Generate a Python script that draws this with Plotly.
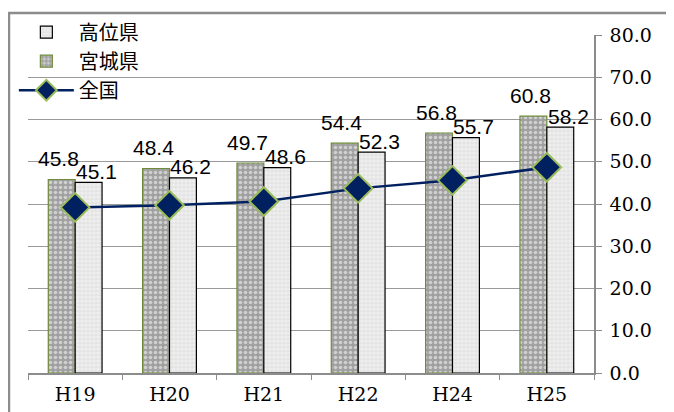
import plotly.graph_objects as go

categories = ["H19", "H20", "H21", "H22", "H24", "H25"]
miyagi = [45.8, 48.4, 49.7, 54.4, 56.8, 60.8]
koui = [45.1, 46.2, 48.6, 52.3, 55.7, 58.2]
zenkoku = [39.2, 39.7, 40.6, 43.7, 45.6, 48.7]
y_ticks = [0, 10, 20, 30, 40, 50, 60, 70, 80]

BARGAP = 0.43
# page has an 8px body margin, so margins are reduced by 8px on left/top
ML, MR, MT, MB = 20, 88, 27, 47
W, H = 674, 412
plot_w = W - ML - MR
cat_px = plot_w / len(categories)
bar_px = cat_px * (1 - BARGAP) / 2

label_font = dict(family="Liberation Sans, Arial", size=21, color="#000000")

fig = go.Figure()

fig.add_trace(go.Bar(
    name="宮城県", x=categories, y=miyagi,
    marker=dict(color="#a9a9a9", line=dict(color="#6f8a3a", width=1.2),
                pattern=dict(shape=".", bgcolor="#a0a0a0", fgcolor="#ffffff",
                             size=5, solidity=0.4, fillmode="overlay")),
    legendrank=2,
))
fig.add_trace(go.Bar(
    name="高位県", x=categories, y=koui,
    marker=dict(color="#ececec", line=dict(color="#000000", width=1.2),
                pattern=dict(shape=".", bgcolor="#e3e3e3", fgcolor="#fbfbfb",
                             size=4, solidity=0.5, fillmode="overlay")),
    legendrank=1,
))
fig.add_trace(go.Scatter(
    name="全国", x=categories, y=zenkoku, mode="lines+markers",
    line=dict(color="#002060", width=2.5),
    marker=dict(symbol="diamond", size=22, color="#002060",
                line=dict(color="#9bbb59", width=2)),
    cliponaxis=False,
    legendrank=3,
))

annotations = []
for c, v in zip(categories, miyagi):
    annotations.append(dict(x=c, y=v, xref="x", yref="y", text=f"{v:.1f}",
                            showarrow=False, font=label_font,
                            xanchor="center", yanchor="middle",
                            xshift=-bar_px / 2 - 3, yshift=21))
for c, v in zip(categories, koui):
    annotations.append(dict(x=c, y=v, xref="x", yref="y", text=f"{v:.1f}",
                            showarrow=False, font=label_font,
                            xanchor="center", yanchor="middle",
                            xshift=bar_px / 2 + 8, yshift=11))

fig.update_layout(
    width=W, height=H,
    margin=dict(l=ML, r=MR, t=MT, b=MB, autoexpand=False),
    paper_bgcolor="#ffffff", plot_bgcolor="#ffffff",
    barmode="group", bargap=BARGAP, bargroupgap=0,
    showlegend=True,
    legend=dict(x=-0.025, y=1.066, xanchor="left", yanchor="top",
                bgcolor="rgba(255,255,255,0)", borderwidth=0,
                font=dict(family="Noto Sans CJK JP", size=20, color="#000000"),
                itemwidth=55, tracegroupgap=0),
    xaxis=dict(type="category", showline=True, linecolor="#8c8c8c", linewidth=1.5,
               ticks="outside", ticklen=5, tickcolor="#8c8c8c", tickson="boundaries",
               showgrid=False, ticklabelstandoff=3,
               tickfont=dict(family="DejaVu Serif", size=19, color="#000000")),
    yaxis=dict(side="right", range=[0, 80], tickvals=y_ticks, tickformat=".1f",
               showline=True, linecolor="#8c8c8c", linewidth=1.5,
               ticks="outside", ticklen=6, tickcolor="#8c8c8c",
               ticklabelstandoff=4,
               showgrid=True, gridcolor="#9a9a9a", gridwidth=1.2, zeroline=False,
               tickfont=dict(family="DejaVu Serif", size=19, color="#000000")),
    annotations=annotations,
    shapes=[
        dict(type="rect", xref="paper", yref="paper",
             x0=-0.031, x1=0.21, y0=0.81, y1=1.06,
             fillcolor="#ffffff", line=dict(width=0), layer="between"),
        dict(type="rect", xref="paper", yref="paper",
             x0=-0.0336, x1=1.136, y0=-0.15, y1=1.065,
             fillcolor="rgba(0,0,0,0)", line=dict(color="#8c8c8c", width=2.5),
             layer="above"),
    ],
)

fig.write_html("out.html")
